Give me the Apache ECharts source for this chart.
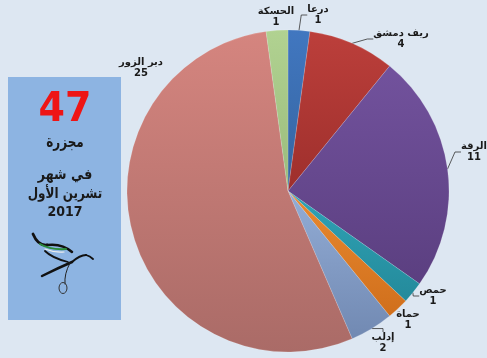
<!DOCTYPE html>
<html>
<head>
<meta charset="utf-8">
<script src="https://cdn.jsdelivr.net/npm/echarts@6/dist/echarts.min.js"></script>
<style>
html,body{margin:0;padding:0;background:#dde7f2;}
#c{width:487px;height:358px;}
</style>
</head>
<body>
<div id="c"></div>
<script>
var categories = ['درعا', 'ريف دمشق', 'الرقة', 'حمص', 'حماة', 'إدلب', 'دير الزور', 'الحسكة'];
var values = [1, 4, 11, 1, 1, 2, 25, 1];
var totalLabel = '47';
var panelTexts = ['مجزرة', 'في شهر', 'تشرين الأول', '2017'];

var topColors = ['#4177c0', '#bc3f3b', '#72529d', '#2fa3b6', '#ea8a30', '#93add6', '#d5857f', '#b1d291'];
var botColors = ['#35649f', '#9e2f2c', '#5b3f80', '#248a9b', '#d06f1c', '#7189b2', '#aa6b67', '#9abb7c'];
var labelPos = [[318, 15], [401, 39], [474, 152], [433, 296], [408, 320], [383, 343], [141, 68], [276, 17]];
var showLine = [true, true, true, true, false, true, false, false];

var chart = echarts.init(document.getElementById('c'), null, {renderer: 'canvas'});
var data = categories.map(function (n, i) {
  return {
    name: n,
    value: values[i],
    itemStyle: {
      color: new echarts.graphic.LinearGradient(0, 0, 0, 1, [
        {offset: 0, color: topColors[i]}, {offset: 1, color: botColors[i]}
      ])
    },
    labelLine: {show: showLine[i]}
  };
});

function txt(t, x, y, size, sx, color) {
  return {type: 'text', x: x, y: y, scaleX: sx, originX: 0, originY: 0,
    style: {text: t, font: 'bold ' + size + 'px "DejaVu Sans"', fill: color, align: 'center', verticalAlign: 'middle'}};
}
function bz(x1, y1, cx, cy, x2, y2, col, w) {
  return {type: 'bezierCurve', shape: {x1: x1, y1: y1, cpx1: cx, cpy1: cy, x2: x2, y2: y2},
    style: {fill: null, stroke: col, lineWidth: w, lineCap: 'round'}};
}

var F = 'DejaVu Sans';
chart.setOption({
  backgroundColor: '#dde7f2',
  animation: false,
  series: [{
    type: 'pie',
    center: [288, 191],
    radius: [0, 161],
    startAngle: 90,
    clockwise: true,
    data: data,
    itemStyle: {borderColor: 'rgba(255,255,255,0.3)', borderWidth: 0.5},
    label: {
      show: true,
      position: 'outside',
      formatter: '{b}\n{c}',
      fontFamily: F,
      fontWeight: 'bold',
      fontSize: 10,
      lineHeight: 11,
      color: '#1a1a1a',
      align: 'center',
      overflow: 'none'
    },
    labelLine: {show: true, length: 6, length2: 6, lineStyle: {color: '#333', width: 0.8}},
    labelLayout: function (p) {
      var pos = labelPos[p.dataIndex];
      return {x: pos[0], y: pos[1], align: 'center', verticalAlign: 'middle'};
    },
    emphasis: {disabled: true}
  }],
  graphic: [
    {type: 'rect', shape: {x: 8, y: 77, width: 113, height: 243}, style: {fill: '#8db4e2'}},
    txt(totalLabel, 65, 111, 40, 0.95, '#ee1515'),
    txt(panelTexts[0], 65, 143, 16, 0.75, '#1a1a1a'),
    txt(panelTexts[1], 65, 175, 15, 0.85, '#1a1a1a'),
    txt(panelTexts[2], 65, 194, 15, 0.8, '#1a1a1a'),
    txt(panelTexts[3], 65, 212, 14, 0.9, '#1a1a1a'),
    bz(33, 234, 38, 246, 47, 245, '#111', 2.8),
    bz(47, 245, 62, 243, 72, 252, '#111', 2.5),
    bz(45, 251, 52, 258, 68, 262, '#111', 1.8),
    bz(40, 244, 50, 250, 66, 249, '#2b8c3c', 2),
    bz(45, 249, 55, 253, 64, 252, '#eeeeee', 1.2),
    bz(42, 276, 58, 268, 72, 262, '#111', 2.5),
    bz(72, 262, 80, 255, 86, 255, '#111', 2.2),
    bz(86, 255, 90, 256, 93, 259, '#111', 1.8),
    bz(70, 263, 64, 274, 65, 284, '#222', 1),
    {type: 'ellipse', shape: {cx: 63, cy: 288, rx: 4, ry: 5.5}, style: {fill: null, stroke: '#333', lineWidth: 1}}
  ]
});
</script>
</body>
</html>
